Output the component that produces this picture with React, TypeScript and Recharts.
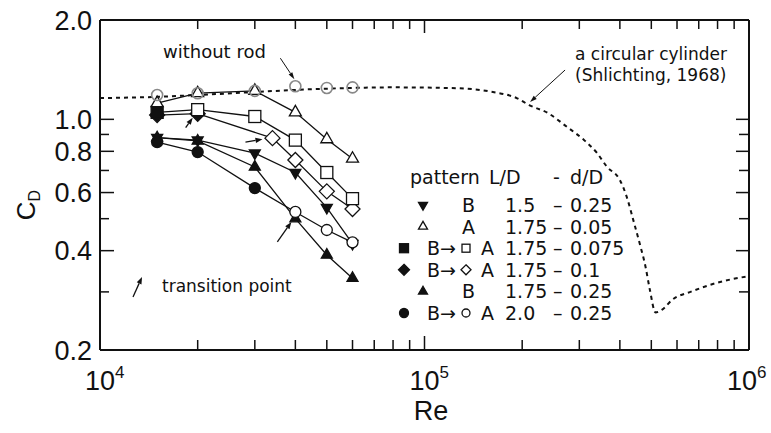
import React from 'react';
import { ComposedChart, Scatter, Line, XAxis, YAxis, ReferenceDot } from 'recharts';

// Reynolds numbers of the measurements
const re = [15000, 20000, 30000, 40000, 50000, 60000];
const reDiamond = [15000, 20000, 34000, 40000, 50000, 60000];

// drag coefficient per case
const cdB15 = [0.88, 0.865, 0.79, 0.69, 0.54, 0.42];
const cdA175 = [1.12, 1.2, 1.22, 1.05, 0.87, 0.76];
const cdSquare = [1.05, 1.07, 1.02, 0.865, 0.69, 0.575];
const cdDiamond = [1.03, 1.04, 0.877, 0.753, 0.605, 0.535];
const cdB175 = [0.88, 0.86, 0.717, 0.5, 0.388, 0.33];
const cdCircle = [0.853, 0.796, 0.619, 0.524, 0.462, 0.424];
const cdNoRod = [1.185, 1.2, 1.22, 1.26, 1.245, 1.25];

// transition (B -> A) Reynolds numbers and Cd there
const transRe = [20000, 34000, 40000];
const transCd = [1.07, 0.877, 0.524];

// circular cylinder (Shlichting, 1968)
const cylRe = [1e4, 1.5e4, 2e4, 3e4, 4e4, 6e4, 8e4, 1.25e5, 1.6e5, 1.93e5, 2.1e5, 2.4e5, 2.75e5, 3.1e5, 3.4e5, 3.65e5, 4.0e5, 4.2e5, 4.4e5, 4.6e5, 4.8e5, 4.95e5, 5.15e5, 5.4e5, 5.8e5, 6.6e5, 8e5, 1e6];
const cylCd = [1.16, 1.17, 1.185, 1.21, 1.228, 1.245, 1.25, 1.243, 1.213, 1.158, 1.105, 1.045, 0.948, 0.866, 0.791, 0.718, 0.655, 0.582, 0.495, 0.422, 0.357, 0.304, 0.26, 0.265, 0.284, 0.3, 0.32, 0.335];

const xTicks = [1e4, 2e4, 3e4, 4e4, 5e4, 6e4, 7e4, 8e4, 9e4, 1e5, 2e5, 3e5, 4e5, 5e5, 6e5, 7e5, 8e5, 9e5, 1e6];
const xMajor = [1e4, 1e5, 1e6];
const yTicks = [0.2, 0.3, 0.4, 0.5, 0.6, 0.7, 0.8, 0.9, 1.0, 2.0];
const yLabels = [0.2, 0.4, 0.6, 0.8, 1.0, 2.0];

const legendPattern = ['B', 'A', 'B→A', 'B→A', 'B', 'B→A'];
const legendLD = ['1.5', '1.75', '1.75', '1.75', '1.75', '2.0'];
const legendDD = ['0.25', '0.05', '0.075', '0.1', '0.25', '0.25'];

const INK = '#111';
const TICK_FONT = '"Liberation Sans", Arial, sans-serif';
const TEXT_FONT = '"DejaVu Sans", sans-serif';

const zip = (xs: number[], ys: number[]) => xs.map((x, i) => ({ x, y: ys[i] }));

function Mark({ cx, cy, kind, filled, size }: any) {
  const fill = filled ? INK : '#fff';
  const sw = 1.3;
  if (kind === 'circle') return <circle cx={cx} cy={cy} r={size / 2} fill={fill} stroke={INK} strokeWidth={sw} />;
  if (kind === 'square')
    return <rect x={cx - size / 2} y={cy - size / 2} width={size} height={size} fill={fill} stroke={INK} strokeWidth={sw} />;
  if (kind === 'diamond') {
    const h = size / 2;
    return <polygon points={`${cx},${cy - h} ${cx + h},${cy} ${cx},${cy + h} ${cx - h},${cy}`} fill={fill} stroke={INK} strokeWidth={sw} />;
  }
  const h = size * 0.866;
  const s = kind === 'triDown' ? -1 : 1;
  return (
    <polygon
      points={`${cx},${cy - (s * h * 2) / 3} ${cx + size / 2},${cy + (s * h) / 3} ${cx - size / 2},${cy + (s * h) / 3}`}
      fill={fill}
      stroke={INK}
      strokeWidth={sw}
    />
  );
}

function Arrow({ x1, y1, x2, y2, head = 7, w = 2.6, sw = 1.3 }: any) {
  const dx = x2 - x1;
  const dy = y2 - y1;
  const L = Math.hypot(dx, dy);
  const ux = dx / L;
  const uy = dy / L;
  const bx = x2 - ux * head;
  const by = y2 - uy * head;
  const px = -uy * w;
  const py = ux * w;
  return (
    <g>
      <line x1={x1} y1={y1} x2={bx} y2={by} stroke={INK} strokeWidth={sw} />
      <polygon points={`${x2},${y2} ${bx + px},${by + py} ${bx - px},${by - py}`} fill={INK} />
    </g>
  );
}

const series = [
  { key: 'b15', xs: re, ys: cdB15, kind: 'triDown', openFrom: Infinity, size: 11 },
  { key: 'b175', xs: re, ys: cdB175, kind: 'triUp', openFrom: Infinity, size: 11 },
  { key: 'circ', xs: re, ys: cdCircle, kind: 'circle', openFrom: transRe[2], size: 11 },
  { key: 'dia', xs: reDiamond, ys: cdDiamond, kind: 'diamond', openFrom: transRe[1], size: 15 },
  { key: 'sq', xs: re, ys: cdSquare, kind: 'square', openFrom: transRe[0], size: 12 },
  { key: 'a175', xs: re, ys: cdA175, kind: 'triUp', openFrom: 0, size: 12 },
];

// pixel offsets of the transition arrows from their points
const transArrow = [
  { t: [-12, 18], h: [-5, 8] },
  { t: [-27, 4], h: [-10, 1] },
  { t: [-18, 30], h: [-4, 10] },
];

const XTickBottom = ({ x, y, payload }: any) => {
  const v = payload.value;
  const major = xMajor.includes(v);
  // the last label sits against the right edge, as in the original
  const shift = v === 1e6 ? 22 : 15;
  return (
    <g>
      <line x1={x} x2={x} y1={y} y2={y - (major ? 14 : 10)} stroke={INK} strokeWidth={1.5} />
      {major && (
        <text x={x - shift} y={y + 40} fontSize={27} fontFamily={TICK_FONT} fill={INK}>
          10<tspan dy={-12} fontSize={17}>{Math.round(Math.log10(v))}</tspan>
        </text>
      )}
    </g>
  );
};

const XTickTop = ({ x, y, payload }: any) => {
  const major = xMajor.includes(payload.value);
  return <line x1={x} x2={x} y1={y} y2={y + (major ? 13 : 9)} stroke={INK} strokeWidth={1.5} />;
};

const YTickLeft = ({ x, y, payload }: any) => {
  const v = payload.value;
  const lab = yLabels.includes(v);
  return (
    <g>
      <line x1={x} x2={x + (lab ? 14 : 9)} y1={y} y2={y} stroke={INK} strokeWidth={1.5} />
      {lab && (
        <text x={x - 8} y={y} dy="0.36em" textAnchor="end" fontSize={27} fontFamily={TICK_FONT} fill={INK}>
          {v.toFixed(1)}
        </text>
      )}
    </g>
  );
};

const YTickRight = ({ x, y, payload }: any) => {
  const lab = yLabels.includes(payload.value);
  return <line x1={x} x2={x - (lab ? 13 : 10)} y1={y} y2={y} stroke={INK} strokeWidth={1.5} />;
};

export default function App() {
  const axisLine = { stroke: INK, strokeWidth: 2 };
  const rowTop = 205;
  const rowStep = 21.6;
  const legendKinds = ['triDown', 'triUp', 'square', 'diamond', 'triUp', 'circle'];
  const legendFilled = [true, false, true, true, true, true];

  return (
    <div style={{ position: 'absolute', left: 0, top: 0, width: 771, height: 433, background: '#fff' }}>
      <ComposedChart width={771} height={433} margin={{ top: 19, right: 21, bottom: 23, left: 0 }}>
        <XAxis
          xAxisId={0}
          dataKey="x"
          type="number"
          scale="log"
          domain={[1e4, 1e6]}
          allowDataOverflow
          ticks={xTicks}
          interval={0}
          height={60}
          tickSize={0}
          tickMargin={0}
          tickLine={false}
          axisLine={axisLine}
          tick={(p: any) => <XTickBottom {...p} />}
        />
        <XAxis
          xAxisId="top"
          orientation="top"
          dataKey="x"
          type="number"
          scale="log"
          domain={[1e4, 1e6]}
          allowDataOverflow
          ticks={xTicks}
          interval={0}
          height={1}
          tickSize={0}
          tickMargin={0}
          tickLine={false}
          axisLine={axisLine}
          tick={(p: any) => <XTickTop {...p} />}
        />
        <YAxis
          yAxisId={0}
          dataKey="y"
          type="number"
          scale="log"
          domain={[0.2, 2]}
          allowDataOverflow
          ticks={yTicks}
          interval={0}
          width={100}
          tickSize={0}
          tickMargin={0}
          tickLine={false}
          axisLine={axisLine}
          tick={(p: any) => <YTickLeft {...p} />}
        />
        <YAxis
          yAxisId="right"
          orientation="right"
          dataKey="y"
          type="number"
          scale="log"
          domain={[0.2, 2]}
          allowDataOverflow
          ticks={yTicks}
          interval={0}
          width={1}
          tickSize={0}
          tickMargin={0}
          tickLine={false}
          axisLine={axisLine}
          tick={(p: any) => <YTickRight {...p} />}
        />

        <Line
          data={zip(cylRe, cylCd)}
          dataKey="y"
          type="monotone"
          stroke={INK}
          strokeWidth={2}
          strokeDasharray="4 4"
          dot={false}
          isAnimationActive={false}
        />

        {series.map((s) => (
          <Scatter
            key={s.key}
            data={zip(s.xs, s.ys)}
            line={{ stroke: INK, strokeWidth: 1.3 }}
            lineType="joint"
            isAnimationActive={false}
            shape={(p: any) => (
              <Mark cx={p.cx} cy={p.cy} kind={s.kind} size={s.size} filled={p.payload.x < s.openFrom} />
            )}
          />
        ))}

        <Scatter
          data={zip(re, cdNoRod)}
          isAnimationActive={false}
          shape={(p: any) => <circle cx={p.cx} cy={p.cy} r={5.5} fill="none" stroke="#888" strokeWidth={1.6} />}
        />

        {transRe.map((x, i) => (
          <ReferenceDot
            key={'t' + i}
            x={x}
            y={transCd[i]}
            shape={(p: any) => (
              <Arrow
                x1={p.cx + transArrow[i].t[0]}
                y1={p.cy + transArrow[i].t[1]}
                x2={p.cx + transArrow[i].h[0]}
                y2={p.cy + transArrow[i].h[1]}
              />
            )}
          />
        ))}
        <ReferenceDot
          x={re[3]}
          y={cdNoRod[3]}
          shape={(p: any) => <Arrow x1={p.cx - 15} y1={p.cy - 28} x2={p.cx - 1} y2={p.cy - 7} sw={1} w={2.2} />}
        />
        <ReferenceDot
          x={cylRe[10]}
          y={cylCd[10]}
          shape={(p: any) => <Arrow x1={p.cx + 36} y1={p.cy - 35} x2={p.cx + 1} y2={p.cy - 3} sw={1} w={2.2} />}
        />
      </ComposedChart>

      <svg width={771} height={433} style={{ position: 'absolute', left: 0, top: 0, pointerEvents: 'none' }}>
        <text transform="translate(35,205) rotate(-90)" textAnchor="middle" fontSize={26} fontFamily={TICK_FONT} fill={INK}>
          C<tspan fontSize={16} dy={5}>D</tspan>
        </text>
        <text x={431} y={420} textAnchor="middle" fontSize={27} fontFamily={TICK_FONT} fill={INK}>
          Re
        </text>

        <text x={163} y={58} fontSize={18} fontFamily={TEXT_FONT} fill={INK}>without rod</text>
        <text x={575} y={60} fontSize={17} fontFamily={TEXT_FONT} fill={INK}>a circular cylinder</text>
        <text x={575} y={81} fontSize={17} fontFamily={TEXT_FONT} fill={INK}>(Shlichting, 1968)</text>
        <Arrow x1={133} y1={297} x2={142} y2={277} />
        <text x={162} y={292} fontSize={17} fontFamily={TEXT_FONT} fill={INK}>transition point</text>

        <g fontSize={19} fontFamily={TEXT_FONT} fill={INK}>
          <text x={410} y={184}>pattern</text>
          <text x={489} y={184}>L/D</text>
          <text x={553} y={184}>-</text>
          <text x={570} y={184}>d/D</text>
          {legendPattern.map((pat, i) => {
            const y = rowTop + i * rowStep;
            const base = y + 7;
            const change = pat.includes('→');
            return (
              <g key={i}>
                {change ? (
                  <>
                    <Mark cx={404} cy={y} kind={legendKinds[i]} filled size={legendKinds[i] === 'diamond' ? 11 : 9} />
                    <text x={427} y={base}>B→</text>
                    <Mark cx={466} cy={y} kind={legendKinds[i]} filled={false} size={legendKinds[i] === 'diamond' ? 10 : 8} />
                    <text x={481} y={base}>A</text>
                  </>
                ) : (
                  <>
                    <Mark cx={423} cy={y} kind={legendKinds[i]} filled={legendFilled[i]} size={9} />
                    <text x={462} y={base}>{pat}</text>
                  </>
                )}
                <text x={505} y={base}>{legendLD[i]}</text>
                <text x={553} y={base}>–</text>
                <text x={570} y={base}>{legendDD[i]}</text>
              </g>
            );
          })}
        </g>
      </svg>
    </div>
  );
}
